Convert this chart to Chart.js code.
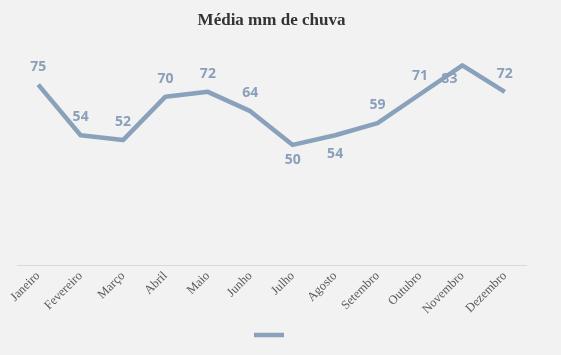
<!DOCTYPE html>
<html>
<head>
<meta charset="utf-8">
<script src="https://cdn.jsdelivr.net/npm/chart.js@4/dist/chart.umd.min.js"></script>
<style>
html,body{margin:0;padding:0;background:#f2f2f2;}
#wrap{width:561px;height:355px;position:relative;}
</style>
</head>
<body>
<div id="wrap"><canvas id="c" width="561" height="355"></canvas></div>
<script>
const categories = ['Janeiro','Fevereiro','Março','Abril','Maio','Junho','Julho','Agosto','Setembro','Outubro','Novembro','Dezembro'];
const rainfall = [75,54,52,70,72,64,50,54,59,71,83,72];

const lineColor = '#8aa1bb';
const labelColor = '#8a9fb9';

const labelPlugin = {
  id: 'pointLabels',
  afterDatasetsDraw(chart, args, opts) {
    const ctx = chart.ctx;
    const meta = chart.getDatasetMeta(0);
    ctx.save();
    ctx.font = 'bold 14px "Open Sans", "Liberation Sans", sans-serif';
    ctx.fillStyle = labelColor;
    ctx.textAlign = 'center';
    ctx.textBaseline = 'middle';
    meta.data.forEach((pt, i) => {
      const off = opts.offsets[i];
      ctx.fillText(String(chart.data.datasets[0].data[i]), pt.x + off[0], pt.y + off[1]);
    });
    ctx.restore();
  }
};

new Chart(document.getElementById('c'), {
  type: 'line',
  data: {
    labels: categories,
    datasets: [{
      label: '',
      data: rainfall,
      borderColor: lineColor,
      backgroundColor: lineColor,
      borderWidth: 4.5,
      pointRadius: 0,
      pointHoverRadius: 0,
      tension: 0,
      borderJoinStyle: 'round',
      borderCapStyle: 'butt'
    }]
  },
  options: {
    responsive: false,
    animation: false,
    layout: { padding: { left: 17, right: 35, top: 0, bottom: 5 } },
    scales: {
      x: {
        offset: true,
        grid: { display: false, drawTicks: false, offset: true },
        border: { display: true, color: '#d9d9d9', width: 1 },
        ticks: {
          maxRotation: 45, minRotation: 45,
          color: '#595959',
          padding: 3,
          font: { family: '"Liberation Serif", serif', size: 12.5 }
        }
      },
      y: {
        display: false,
        min: 0, max: 90
      }
    },
    plugins: {
      title: {
        display: true,
        text: 'Média mm de chuva',
        color: '#333333',
        font: { family: '"Liberation Serif", serif', size: 17, weight: 'bold' },
        padding: { top: 10, bottom: 18 }
      },
      legend: {
        display: true,
        position: 'bottom',
        labels: {
          usePointStyle: true,
          pointStyle: 'line',
          pointStyleWidth: 30,
          boxHeight: 10,
          padding: 10,
          font: { size: 10 }
        }
      },
      tooltip: { enabled: false },
      pointLabels: {
        offsets: [[0,-18],[0,-18],[0,-18],[0,-18],[0,-18],[0,-18],[0,15],[0,19],[0,-18],[0,-18],[-13,14],[0,-18]]
      }
    }
  },
  plugins: [labelPlugin]
});
</script>
</body>
</html>
